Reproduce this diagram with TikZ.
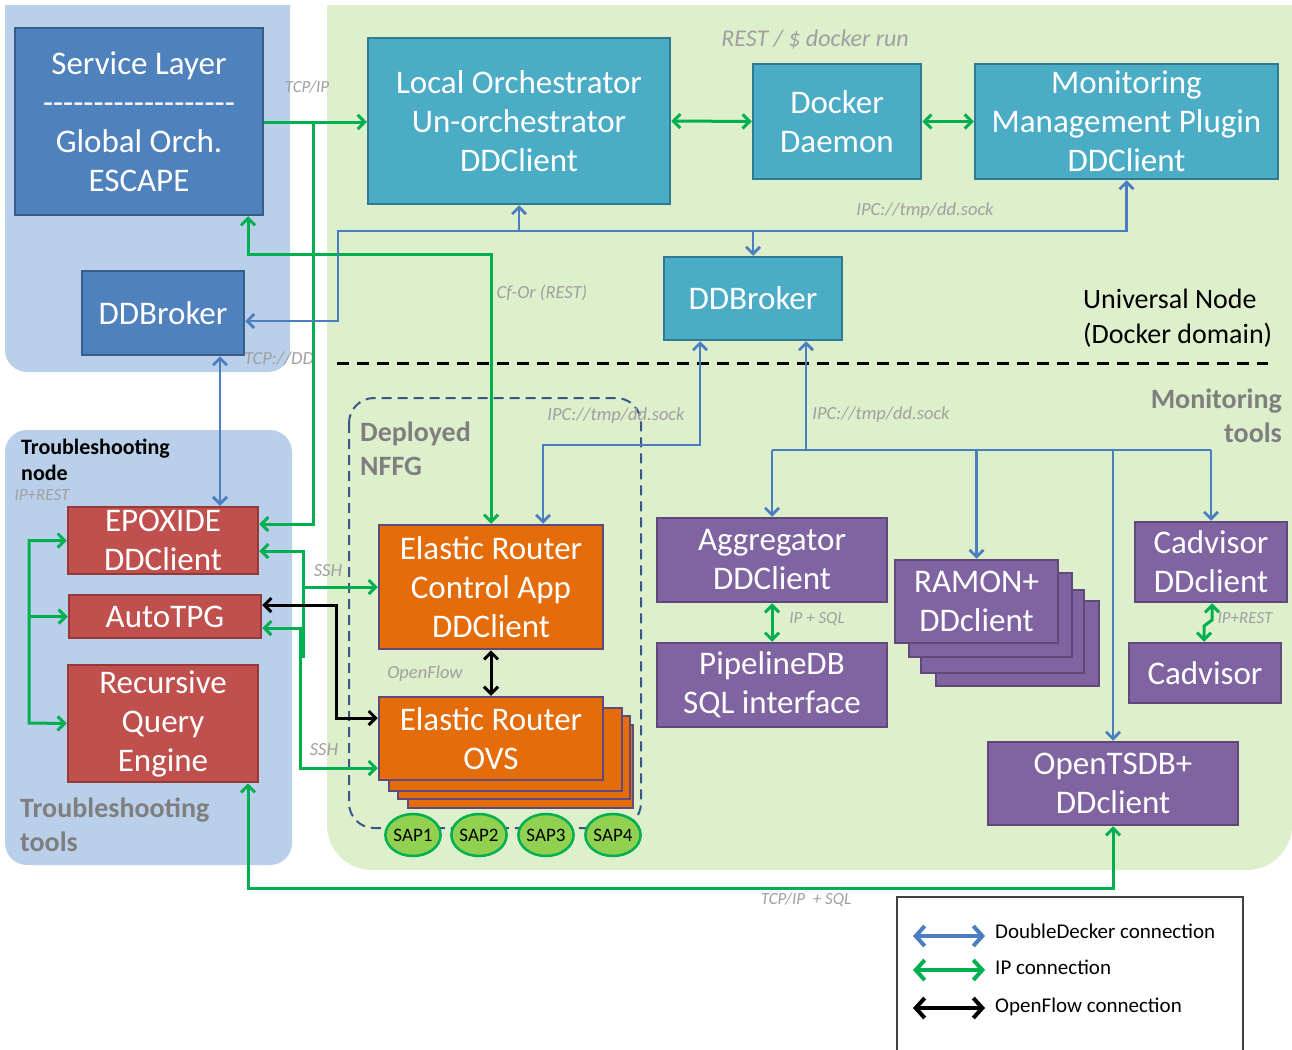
\documentclass[tikz,border=0pt]{standalone}
\usepackage{fontspec}
\setmainfont{Carlito}
\usetikzlibrary{arrows.meta,shapes.geometric}
\definecolor{bgblue}{RGB}{185,207,234}
\definecolor{bggreen}{RGB}{222,239,204}
\definecolor{slfill}{RGB}{79,129,189}
\definecolor{slborder}{RGB}{56,93,138}
\definecolor{tealfill}{RGB}{75,172,198}
\definecolor{tealborder}{RGB}{49,123,146}
\definecolor{purplefill}{RGB}{128,100,162}
\definecolor{purpleborder}{RGB}{95,73,122}
\definecolor{redfill}{RGB}{192,80,77}
\definecolor{redborder}{RGB}{150,58,56}
\definecolor{orangefill}{RGB}{228,108,10}
\definecolor{orangeborder}{RGB}{96,74,123}
\definecolor{sapfill}{RGB}{146,208,80}
\definecolor{sapborder}{RGB}{0,176,80}
\definecolor{ipgreen}{RGB}{0,176,80}
\definecolor{ddblue}{RGB}{74,126,193}
\definecolor{labelgray}{RGB}{160,160,160}
\definecolor{titlegray}{RGB}{127,127,127}
\definecolor{nffgdash}{RGB}{56,87,135}
\tikzset{
  >={Straight Barb[length=7,width=14]},
  legtip/.tip={Straight Barb[length=9,width=20]},
  box/.style={draw, line width=2.5, inner sep=0, align=center, text=white, font=\fontsize{33}{39}\selectfont},
  slbox/.style={box, fill=slfill, draw=slborder},
  tealbox/.style={box, fill=tealfill, draw=tealborder},
  purplebox/.style={box, fill=purplefill, draw=purpleborder},
  redbox/.style={box, fill=redfill, draw=redborder},
  orangebox/.style={box, fill=orangefill, draw=orangeborder},
  sapnode/.style={ellipse, draw=sapborder, fill=sapfill, line width=2.5, minimum width=47, minimum height=42, inner sep=0, font=\fontsize{19}{20}\selectfont},
  lab/.style={text=labelgray, inner sep=0, font=\itshape\fontsize{18.5}{21}\selectfont},
  title/.style={text=titlegray, inner sep=0, font=\bfseries\fontsize{28}{34}\selectfont},
  ip/.style={draw=ipgreen, line width=3},
  dd/.style={draw=ddblue, line width=2.8},
  of/.style={draw=black, line width=3},
  legtext/.style={inner sep=0, anchor=west, font=\fontsize{21}{24}\selectfont},
}
\begin{document}
\begin{tikzpicture}[x=1pt,y=-1pt]
\useasboundingbox (0,0) rectangle (1292,1049);
% backgrounds
\fill[bgblue, rounded corners=22] (5,-60) rectangle (290,372);
\fill[bgblue, rounded corners=22] (5,430) rectangle (292,865);
\fill[bggreen, rounded corners=45] (327,-60) rectangle (1292,870);
\fill[white] (0,-70) rectangle (1292,5);
\draw[line width=3, dash pattern=on 12 off 8] (337,363) -- (1268,363);
\draw[nffgdash, line width=2, dash pattern=on 10 off 6, rounded corners=25] (349,398) rectangle (641,828);

% top nodes
\node[slbox, minimum width=248, minimum height=187] (sl) at (139,121.5)
  {Service Layer\\-{}-{}-{}-{}-{}-{}-{}-{}-{}-{}-{}-{}-{}-{}-{}-{}-{}-{}-\\Global Orch.\\ESCAPE};
\node[slbox, minimum width=162, minimum height=84] (ddbl) at (163,313) {DDBroker};
\node[tealbox, minimum width=302, minimum height=166] (lo) at (519,121) {Local Orchestrator\\Un-orchestrator\\DDClient};
\node[tealbox, minimum width=168, minimum height=115] (dock) at (837,121.5) {Docker\\Daemon};
\node[tealbox, minimum width=303, minimum height=115] (mon) at (1126.5,121.5) {Monitoring\\Management Plugin\\DDClient};
\node[tealbox, minimum width=178, minimum height=83] (ddbc) at (753,298.5) {DDBroker};

% troubleshooting
\node[redbox, minimum width=190, minimum height=67] (epox) at (163,540.5) {EPOXIDE\\DDClient};
\node[redbox, minimum width=192, minimum height=43] (atpg) at (165,616.5) {AutoTPG};
\node[redbox, minimum width=190, minimum height=117] (rqe) at (163,723.5) {Recursive\\Query\\Engine};

% elastic router
\node[orangebox, minimum width=225, minimum height=83] (ovs4) at (520.5,766.5) {};
\node[orangebox, minimum width=232, minimum height=83] (ovs3) at (514,757.5) {};
\node[orangebox, minimum width=233, minimum height=83] (ovs2) at (505.5,749.5) {};
\node[orangebox, minimum width=224, minimum height=83] (ovs) at (491,738.5) {Elastic Router\\OVS};
\node[orangebox, minimum width=224, minimum height=124] (erc) at (491,587) {Elastic Router\\Control App\\DDClient};
\node[sapnode] (sap1) at (413,835) {SAP1};
\node[sapnode] (sap2) at (479,835) {SAP2};
\node[sapnode] (sap3) at (546,835) {SAP3};
\node[sapnode] (sap4) at (613,835) {SAP4};

% monitoring
\node[purplebox, minimum width=230, minimum height=84] (agg) at (772,560) {Aggregator\\DDClient};
\node[purplebox, minimum width=230, minimum height=84] (pipe) at (772,685) {PipelineDB\\SQL interface};
\node[purplebox, minimum width=163, minimum height=85] (ram4) at (1017.5,643.5) {};
\node[purplebox, minimum width=163, minimum height=83] (ram3) at (1002.5,631.5) {};
\node[purplebox, minimum width=163, minimum height=84] (ram2) at (990.5,615) {};
\node[purplebox, minimum width=163, minimum height=83] (ramon) at (976.5,601.5) {RAMON+\\DDclient};
\node[purplebox, minimum width=152, minimum height=80] (cadd) at (1211,562) {Cadvisor\\DDclient};
\node[purplebox, minimum width=152, minimum height=60] (cad) at (1205,673) {Cadvisor};
\node[purplebox, minimum width=250, minimum height=83] (tsdb) at (1113,783.5) {OpenTSDB+\\DDclient};

% titles
\node[inner sep=0, anchor=west, align=left, font=\fontsize{28}{35}\selectfont] (un) at (1083,318.5) {Universal Node\\(Docker domain)};
\node[title, anchor=east, align=right] (mt) at (1282,416) {Monitoring\\tools};
\node[title, anchor=west, align=left] (nffg) at (360,448.5) {Deployed\\NFFG};
\node[inner sep=0, anchor=west, align=left, font=\bfseries\fontsize{22}{26}\selectfont] (tn) at (21,460) {Troubleshooting\\node};
\node[title, anchor=west, align=left] (tt) at (20,825) {Troubleshooting\\tools};

% labels
\node[lab, font=\itshape\fontsize{24}{28}\selectfont] (l0) at (815,40) {REST / \$ docker run};
\node[lab, font=\itshape\fontsize{17}{20}\selectfont] (l1) at (307,87) {TCP/IP};
\node[lab] (l2) at (925,211) {IPC://tmp/dd.sock};
\node[lab] (l3) at (542,293) {Cf-Or (REST)};
\node[lab] (l4) at (279,359) {TCP://DD};
\node[lab] (l5) at (616,416) {IPC://tmp/dd.sock};
\node[lab] (l6) at (881,415) {IPC://tmp/dd.sock};
\node[lab] (l7) at (425,674) {OpenFlow};
\node[lab] (l8) at (328,571) {SSH};
\node[lab] (l9) at (324,750) {SSH};
\node[lab, font=\itshape\fontsize{17}{20}\selectfont] (l10) at (42,495) {IP+REST};
\node[lab, font=\itshape\fontsize{17}{20}\selectfont] (l11) at (817,619) {IP + SQL};
\node[lab, font=\itshape\fontsize{17}{20}\selectfont] (l12) at (1245,618) {IP+REST};
\node[lab, font=\itshape\fontsize{17}{20}\selectfont] (l13) at (806,900) {TCP/IP\ \ + SQL};

% coordinates
\coordinate (tj) at (313,122);
\coordinate (cfc) at (248,254);
\coordinate (bj) at (338,231);
\coordinate (mj) at (806,450);

% green IP connections
\draw[ip,->] (sl.east |- tj) -- (lo.west |- tj);
\draw[ip,->] (tj) |- (epox.east |- 0,524);
\draw[ip,<->] (erc.north) |- (cfc) -- (sl.south -| cfc);
\draw[ip,<->] (lo.east) -- (dock.west);
\draw[ip,<->] (dock.east) -- (mon.west);
\draw[ip,<-] (epox.east |- 0,551) -| (303,658);
\draw[ip,->] (303,587) -- (erc.west |- 0,587);
\draw[ip,<->] (atpg.east |- 0,628) -| (300,768) -- (ovs.west |- 0,768);
\draw[ip,<->] (agg.south) -- (pipe.north);
\draw[ip,<->] (cadd.south -| 1212,0) -- (1212,620) -- (1204,626) -- (cad.north -| 1204,0);
\draw[ip,<->] (rqe.south -| 248,0) |- (tsdb.south |- 0,888) -- (tsdb.south);
\draw[ip,<->] (epox.west) -| (29,723) -- (rqe.west);
\draw[ip,->] (29,616.5) -- (atpg.west);

% blue DoubleDecker connections
\draw[dd,<->] (ddbl.east |- 0,321) -| (bj) -- (bj -| mon.south) -- (mon.south);
\draw[dd,->] (lo.south |- bj) -- (lo.south);
\draw[dd,->] (ddbc.north |- bj) -- (ddbc.north);
\draw[dd,<->] (ddbl.south -| 220,0) -- (epox.north -| 220,0);
\draw[dd,<->] (ddbc.south -| 700,0) |- (543,445) -- (erc.north -| 543,0);
\draw[dd,->] (mj) -- (ddbc.south -| mj);
\draw[dd] (agg.north |- mj) -- (cadd.north |- mj);
\draw[dd,->] (agg.north |- mj) -- (agg.north);
\draw[dd,->] (ramon.north |- mj) -- (ramon.north);
\draw[dd,->] (tsdb.north |- mj) -- (tsdb.north);
\draw[dd,->] (cadd.north |- mj) -- (cadd.north);

% black OpenFlow connections
\draw[of,<->] (erc.south) -- (ovs.north);
\draw[of,<->] (atpg.east |- 0,605) -| (336,718) -- (ovs.west |- 0,718);

% legend
\draw[black!75, line width=1.2] (897,1060) -- (897,897) -- (1243,897) -- (1243,1060);
\coordinate (la1) at (913,936); \coordinate (lb1) at (985,936);
\coordinate (la2) at (913,970); \coordinate (lb2) at (985,970);
\coordinate (la3) at (913,1008); \coordinate (lb3) at (985,1008);
\draw[dd, line width=4, legtip-legtip] (la1) -- (lb1);
\draw[ip, line width=4, legtip-legtip] (la2) -- (lb2);
\draw[of, line width=4, legtip-legtip] (la3) -- (lb3);
\node[legtext] (t1) at (995,931) {DoubleDecker connection};
\node[legtext] (t2) at (995,967) {IP connection};
\node[legtext] (t3) at (995,1007) {OpenFlow connection};
\end{tikzpicture}
\end{document}
